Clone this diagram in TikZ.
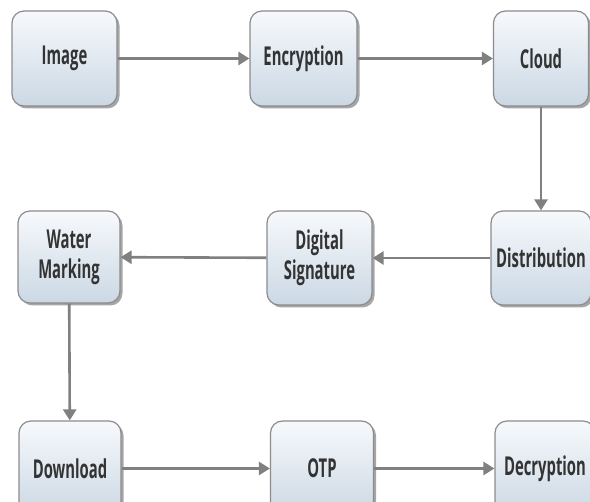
\documentclass[tikz,border=0pt]{standalone}
\usepackage{fontspec}
\setmainfont{Open Sans}[FakeStretch=0.57]
\usetikzlibrary{arrows.meta,shadows}
\definecolor{boxborder}{HTML}{8C8C8C}
\definecolor{boxtop}{HTML}{F7F9FC}
\definecolor{boxbot}{HTML}{CBD8E4}
\definecolor{txt}{HTML}{333333}
\definecolor{arrowc}{HTML}{808080}
\begin{document}
\begin{tikzpicture}[x=1pt,y=1pt]
\tikzset{
  box/.style={draw=boxborder, line width=1.2pt, rounded corners=12pt,
    top color=boxtop, bottom color=boxbot, align=center, inner sep=0pt,
    font=\bfseries\fontsize{26}{30}\selectfont, text=txt,
    drop shadow={shadow xshift=2.5pt, shadow yshift=-2.5pt, opacity=0.35, fill=black}},
  flow/.style={draw=arrowc, line width=2.6pt, -{Triangle[length=11pt,width=13pt]}}
}
\fill[white] (0,0) rectangle (590,502);
\useasboundingbox (0,0) rectangle (590,502);
\node[box, minimum width=105pt, minimum height=95pt] (img) at (64.5,443.5) {Image};
\node[box, minimum width=107pt, minimum height=95pt] (enc) at (303.5,443.5) {Encryption};
\node[box, minimum width=95pt, minimum height=95pt] (cld) at (541,443.5) {Cloud};
\node[box, minimum width=100pt, minimum height=94pt] (dist) at (541,244) {Distribution};
\node[box, minimum width=105pt, minimum height=94pt] (dsig) at (319.5,244) {Digital\\Signature};
\node[box, minimum width=102pt, minimum height=92pt] (wm) at (69,245) {Water\\Marking};
\node[box, minimum width=102pt, minimum height=95pt] (dl) at (70,33.5) {Download};
\node[box, minimum width=103pt, minimum height=95pt] (otp) at (322,33.5) {OTP};
\node[box, minimum width=100pt, minimum height=95pt] (dec) at (545,33.5) {Decryption};
\draw[flow] (img) -- (enc);
\draw[flow] (enc) -- (cld);
\draw[flow] (cld) -- (dist);
\draw[flow] (dist) -- (dsig);
\draw[flow] (dsig) -- (wm);
\draw[flow] (wm) -- (dl);
\draw[flow] (dl) -- (otp);
\draw[flow] (otp) -- (dec);
\end{tikzpicture}
\end{document}
